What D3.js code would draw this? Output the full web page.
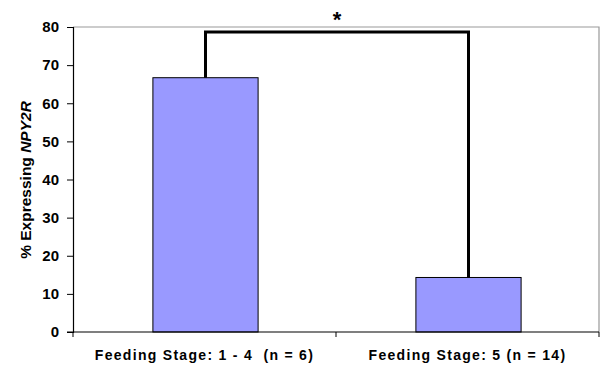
<!DOCTYPE html>
<html>
<head>
<meta charset="utf-8">
<script src="https://cdn.jsdelivr.net/npm/d3@7"></script>
<style>
  body { margin: 0; background: #fff; }
  text { font-family: "Liberation Sans", Arial, sans-serif; font-weight: bold; }
</style>
</head>
<body>
<svg id="chart" width="601" height="365"></svg>
<script>
const categories = ["Feeding Stage: 1 - 4  (n = 6)", "Feeding Stage: 5 (n = 14)"];
const values = [66.7, 14.3];
const yTicks = [0, 10, 20, 30, 40, 50, 60, 70, 80];
const bracketLevel = 78.7;

const width = 601, height = 365;
const margin = { top: 27, right: 2, bottom: 33, left: 73 };
const innerWidth = width - margin.left - margin.right;
const innerHeight = height - margin.top - margin.bottom;

const svg = d3.select("#chart");
const g = svg.append("g")
  .attr("transform", `translate(${margin.left},${margin.top})`);

const xScale = d3.scaleBand()
  .domain(categories)
  .range([0, innerWidth])
  .paddingInner(0.6)
  .paddingOuter(0.3);

const yScale = d3.scaleLinear()
  .domain([0, 80])
  .range([innerHeight, 0]);

// Plot frame (top and right in grey)
g.append("path")
  .attr("d", `M0,0H${innerWidth}V${innerHeight}`)
  .attr("fill", "none")
  .attr("stroke", "#999")
  .attr("stroke-width", 1.2);

// Bars
g.selectAll(".bar")
  .data(values)
  .join("rect")
    .attr("class", "bar")
    .attr("x", (d, i) => xScale(categories[i]) + 1)
    .attr("y", d => yScale(d))
    .attr("width", xScale.bandwidth())
    .attr("height", d => innerHeight - yScale(d))
    .attr("fill", "#9999ff")
    .attr("stroke", "#000")
    .attr("stroke-width", 1);

// Y axis
const yAxis = g.append("g")
  .call(d3.axisLeft(yScale).tickValues(yTicks).tickSize(6).tickPadding(8));
yAxis.select(".domain").attr("stroke", "#000").attr("stroke-width", 1.2);
yAxis.selectAll(".tick line").attr("stroke", "#000");
yAxis.selectAll("text")
  .attr("font-size", 15)
  .attr("fill", "#000")
  .style("font-weight", "bold");

// X axis with ticks between categories
const step = innerWidth / categories.length;
const xAxis = g.append("g")
  .attr("transform", `translate(0,${innerHeight})`);
xAxis.append("line")
  .attr("x1", -6).attr("x2", innerWidth)
  .attr("stroke", "#000").attr("stroke-width", 1.2);
xAxis.selectAll(".xtick")
  .data(d3.range(categories.length + 1))
  .join("line")
    .attr("class", "xtick")
    .attr("x1", d => d * step).attr("x2", d => d * step)
    .attr("y1", 0).attr("y2", 5)
    .attr("stroke", "#000");
xAxis.selectAll(".xlabel")
  .data(categories)
  .join("text")
    .attr("class", "xlabel")
    .attr("x", d => xScale(d) + xScale.bandwidth() / 2)
    .attr("y", 27.5)
    .attr("text-anchor", "middle")
    .attr("font-size", 14)
    .attr("letter-spacing", 1.3)
    .style("white-space", "pre")
    .text(d => d);

// Significance bracket
const cx = categories.map(c => xScale(c) + xScale.bandwidth() / 2 + 1);
g.append("path")
  .attr("d", `M${cx[0]},${yScale(values[0])}V${yScale(bracketLevel)}H${cx[1]}V${yScale(values[1])}`)
  .attr("fill", "none")
  .attr("stroke", "#000")
  .attr("stroke-width", 3);

g.append("text")
  .attr("x", (cx[0] + cx[1]) / 2)
  .attr("y", 0)
  .attr("text-anchor", "middle")
  .attr("font-size", 22)
  .text("*");

// Y axis title
const title = svg.append("text")
  .attr("transform", `translate(31,180) rotate(-90)`)
  .attr("text-anchor", "middle")
  .attr("font-size", 15.5);
title.append("tspan").text("% Expressing ");
title.append("tspan").attr("font-style", "italic").text("NPY2R");
</script>
</body>
</html>
